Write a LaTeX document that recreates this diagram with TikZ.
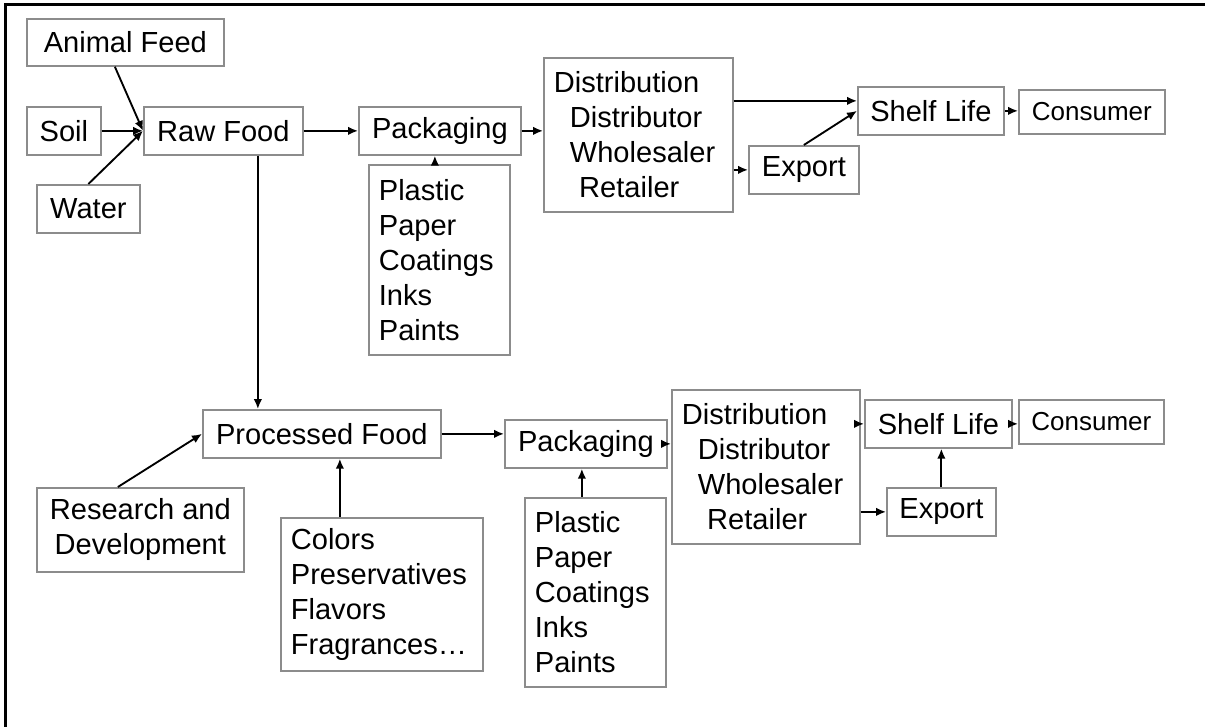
\documentclass[tikz,border=0pt]{standalone}
\usepackage{fontspec}
\setmainfont{Liberation Sans}
\usetikzlibrary{arrows.meta,calc}
\definecolor{boxgray}{HTML}{8C8C8C}
\begin{document}
\begin{tikzpicture}[x=0.75pt,y=-0.75pt,
  box/.style={draw=boxgray, line width=1.3pt, inner sep=0pt, anchor=north west,
    font=\fontsize{21.8}{26.25}\selectfont},
  sz/.style n args={2}{minimum width=#1*0.75pt, minimum height=#2*0.75pt},
  listbox/.style={box, align=left, text width=#1*0.75pt},
  smallfont/.style={font=\fontsize{19.5}{24}\selectfont},
  arr/.style={-{Latex[length=7.5pt,width=6.5pt]}, line width=1.4pt}]
\useasboundingbox (0,0) rectangle (1205,727);
\fill[white] (0,0) rectangle (1205,727);
\draw[line width=2.25pt] (5,727) -- (5,5) -- (1205,5);

% upper chain
\node[box, sz={197}{47}] (af) at (26,18) {Animal Feed};
\node[box, sz={74}{48}] (soil) at (26,106) {Soil};
\node[box, sz={159}{48}] (rf) at (143,106) {Raw Food};
\node[box, sz={103}{48}] (water) at (36,184) {Water};
\node[box, sz={162}{48}] (pk1) at (358,106) {Packaging};
\node[listbox=121, sz={141}{190}] (mt1) at (368,164) {Plastic\\Paper\\Coatings\\Inks\\Paints};
\node[listbox=169, sz={189}{154}] (ds1) at (543,57) {Distribution\\\hspace*{12pt}Distributor\\\hspace*{12pt}Wholesaler\\\hspace*{19pt}Retailer};
\node[box, sz={110}{48}] (ex1) at (748,145) {Export};
\node[box, sz={146}{48}] (sl1) at (857,86) {Shelf Life};
\node[box, smallfont, sz={146}{44}] (cn1) at (1018,89) {Consumer};

% lower chain
\node[box, sz={238}{48}] (pf) at (202,409) {Processed Food};
\node[box, align=center, sz={207}{84}] (rd) at (36,487) {Research and\\Development};
\node[listbox=182, sz={202}{153}] (co) at (280,517) {Colors\\Preservatives\\Flavors\\Fragrances…};
\node[box, sz={162}{48}] (pk2) at (504,419) {Packaging};
\node[listbox=121, sz={141}{189}] (mt2) at (524,497) {Plastic\\Paper\\Coatings\\Inks\\Paints};
\node[listbox=168, sz={188}{154}] (ds2) at (671,389) {Distribution\\\hspace*{12pt}Distributor\\\hspace*{12pt}Wholesaler\\\hspace*{19pt}Retailer};
\node[box, sz={147}{48}] (sl2) at (864,399) {Shelf Life};
\node[box, smallfont, sz={145}{44}] (cn2) at (1018,399) {Consumer};
\node[box, sz={109}{48}] (ex2) at (886,487) {Export};

% helper coordinates
\coordinate (afs) at ($(af.south)+(-10.5,0)$);
\coordinate (m1t) at ($(mt1.north)+(-4.5,0)$);
\coordinate (sl1in) at ($(sl1.west)+(0,-10)$);
\coordinate (rfs) at ($(rf.south)+(34.5,0)$);
\coordinate (rdn) at ($(rd.north)+(-22.5,0)$);
\coordinate (cot) at ($(co.north)+(-42,0)$);
\coordinate (m2t) at ($(mt2.north)+(-13.5,0)$);

% upper connectors
\draw[arr] (afs) -- (rf.west);
\draw[arr] (soil.east) -- (rf.west);
\draw[arr] (water.north) -- (rf.west);
\draw[arr] (rf.east) -- (pk1.west);
\draw[arr] (m1t) -- (m1t |- pk1.south);
\draw[arr] (pk1.east) -- (pk1.east -| ds1.west);
\draw[arr] (sl1in -| ds1.east) -- (sl1in);
\draw[arr] (ex1.west -| ds1.east) -- (ex1.west);
\draw[arr] (ex1.north) -- (sl1.west);
\draw[arr] (sl1.east) -- (sl1.east -| cn1.west);

% lower connectors
\draw[arr] (rfs) -- (rfs |- pf.north);
\draw[arr] (rdn) -- (pf.west);
\draw[arr] (cot) -- (cot |- pf.south);
\draw[arr] (pf.east) -- (pf.east -| pk2.west);
\draw[arr] (m2t) -- (m2t |- pk2.south);
\draw[arr] (pk2.east) -- (pk2.east -| ds2.west);
\draw[arr] (sl2.west -| ds2.east) -- (sl2.west);
\draw[arr] (sl2.east) -- (sl2.east -| cn2.west);
\draw[arr] (ex2.west -| ds2.east) -- (ex2.west);
\draw[arr] (ex2.north) -- (ex2.north |- sl2.south);
\end{tikzpicture}
\end{document}
